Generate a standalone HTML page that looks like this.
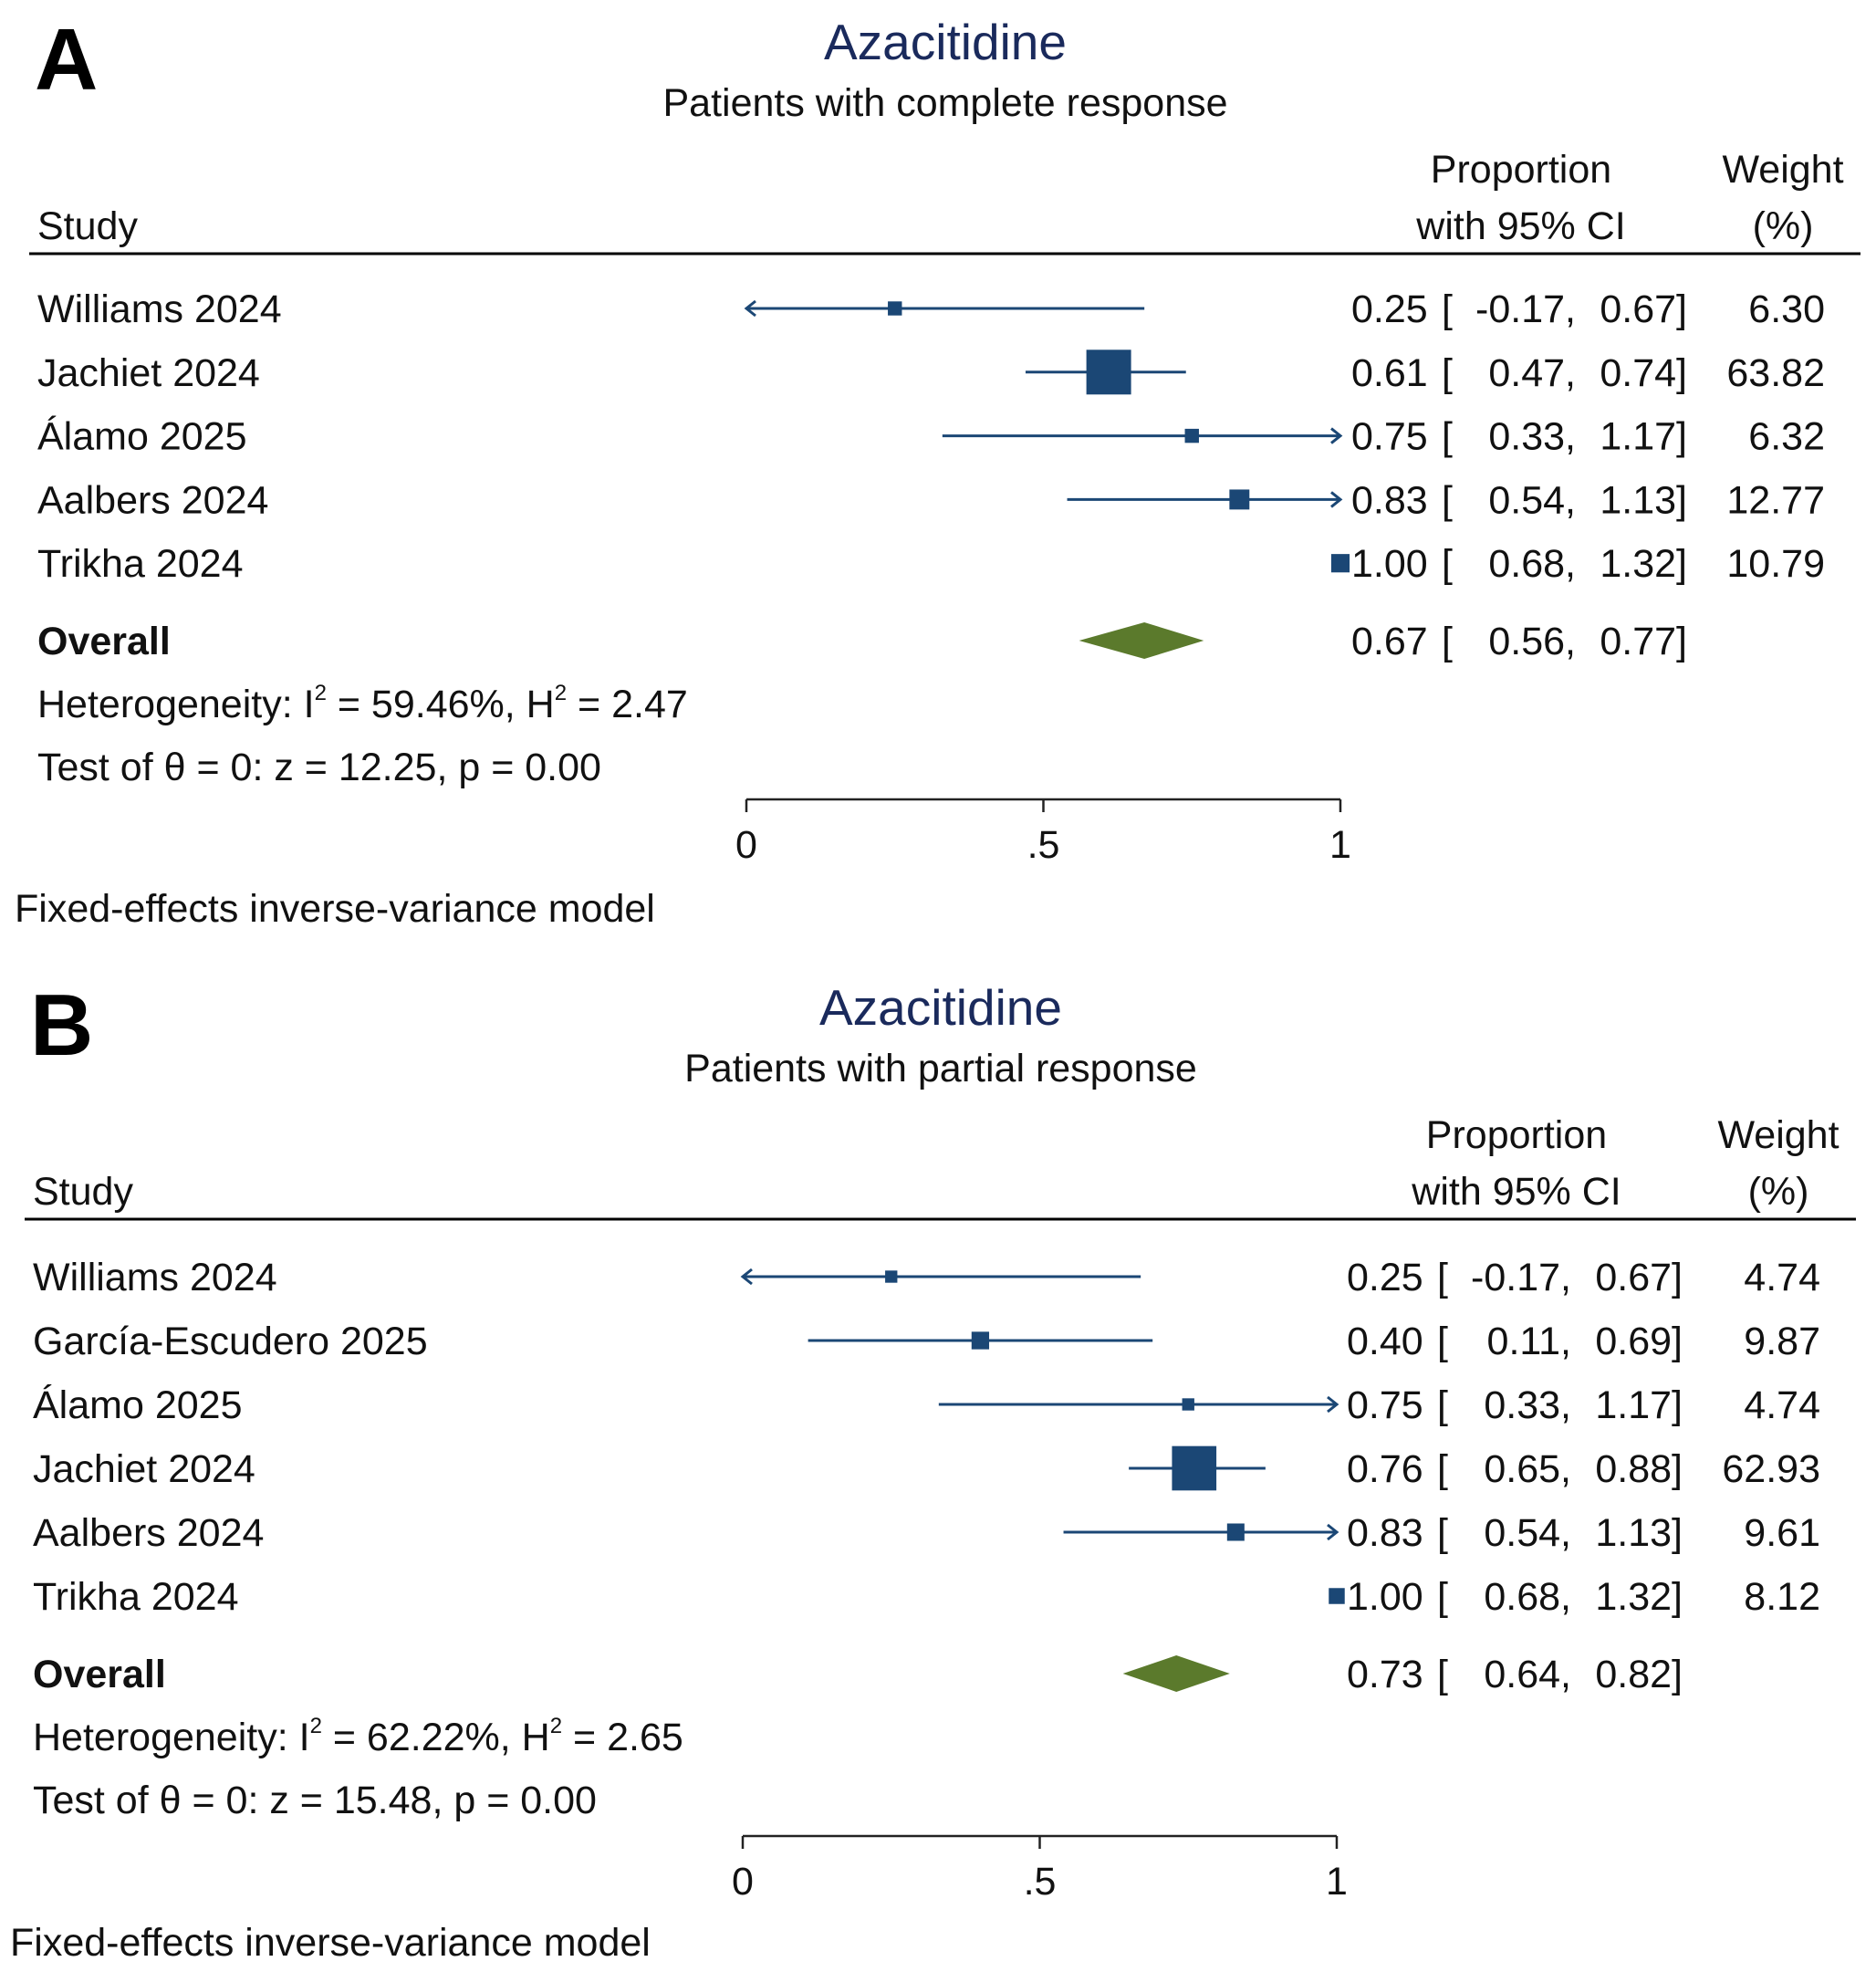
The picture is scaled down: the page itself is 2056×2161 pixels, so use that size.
<!DOCTYPE html>
<html><head><meta charset="utf-8"><style>
body{margin:0;background:#fff}
svg{display:block;font-family:"Liberation Sans",Arial,sans-serif}
</style></head><body>
<svg id="chart" width="2056" height="2161" viewBox="0 0 2056 2161" xmlns="http://www.w3.org/2000/svg"></svg>
<script>
// Panel A data
const studiesA = ["Williams 2024","Jachiet 2024","Álamo 2025","Aalbers 2024","Trikha 2024"];
const estA = [0.25,0.61,0.75,0.83,1.00];
const loA = [-0.17,0.47,0.33,0.54,0.68];
const hiA = [0.67,0.74,1.17,1.13,1.32];
const wA = [6.30,63.82,6.32,12.77,10.79];
const overallA = [0.67,0.56,0.77];
const statsA = ["59.46%","2.47","12.25","0.00"];
// Panel B data
const studiesB = ["Williams 2024","García-Escudero 2025","Álamo 2025","Jachiet 2024","Aalbers 2024","Trikha 2024"];
const estB = [0.25,0.40,0.75,0.76,0.83,1.00];
const loB = [-0.17,0.11,0.33,0.65,0.54,0.68];
const hiB = [0.67,0.69,1.17,0.88,1.13,1.32];
const wB = [4.74,9.87,4.74,62.93,9.61,8.12];
const overallB = [0.73,0.64,0.82];
const statsB = ["62.22%","2.65","15.48","0.00"];
const ticks = [0,0.5,1];
const tickLabels = ["0",".5","1"];

const NS="http://www.w3.org/2000/svg";
const svg=document.getElementById('chart');
const FS=43;
function el(tag,attrs,parent){const e=document.createElementNS(NS,tag);for(const k in attrs)e.setAttribute(k,attrs[k]);(parent||svg).appendChild(e);return e;}
function txt(s,x,y,attrs,parent){const t=el('text',Object.assign({x:x,y:y,'font-size':FS,fill:'#111'},attrs||{}),parent);t.textContent=s;return t;}
const NAVY="#1b4775", GREEN="#5b7a2c";

function panel(cfg){
  const g=el('g',{});
  
  
  const dx=cfg.dx, top=cfg.top;
  const X=v=>cfg.x0+(cfg.x1-cfg.x0)*v;
  const L=txt(cfg.letter,38+dx,top+48,{'font-size':96,'font-weight':'bold',fill:'#000'},g);
  
  const t=txt("Azacitidine",1036+dx,top+15,{'font-size':55,fill:'#1a2a5c','text-anchor':'middle'},g);
  
  const st=txt(cfg.subtitle,1036+dx,top+77,{'text-anchor':'middle'},g);
  
  const h1=txt("Proportion",1667+dx,top+150,{'text-anchor':'middle'},g);
  
  const h2=txt("with 95% CI",1667+dx,top+212,{'text-anchor':'middle'},g);
  
  const h3=txt("Weight",1954+dx,top+150,{'text-anchor':'middle'},g);
  
  const h4=txt("(%)",1954+dx,top+212,{'text-anchor':'middle'},g);
  
  const h5=txt("Study",41+dx,top+212,{},g);
  
  const hl=el('line',{x1:32+dx,x2:2039+dx,y1:top+228,y2:top+228,stroke:'#000','stroke-width':3},g);
  
  const rowY=i=>cfg.row0+i*cfg.rowH;
  cfg.studies.forEach((s,i)=>{
    const y=rowY(i), ty=y+15;
    const r=el('g',{},g);
    
    txt(s,41+dx,ty,{},r);
    const e=cfg.est[i],lo=cfg.lo[i],hi=cfg.hi[i];
    if(e<1){
      const a=X(Math.max(lo,0)),b=X(Math.min(hi,1));
      const ln=el('line',{x1:a,x2:b,y1:y,y2:y,stroke:NAVY,'stroke-width':3},r);
      
      if(lo<0){const p=el('polyline',{points:`${a+10},${y-8} ${a},${y} ${a+10},${y+8}`,fill:'none',stroke:NAVY,'stroke-width':3},r);
        }
      if(hi>1){const p=el('polyline',{points:`${b-10},${y-8} ${b},${y} ${b-10},${y+8}`,fill:'none',stroke:NAVY,'stroke-width':3},r);
        }
    }
    const sz=49*Math.sqrt(cfg.w[i]/63.82);
    const sq=el('rect',{x:X(e)-sz/2,y:y-sz/2,width:sz,height:sz,fill:NAVY},r);
    
    txt(e.toFixed(2),1481+dx,ty,{},r);
    txt("[",1580+dx,ty,{},r);
    txt(lo.toFixed(2)+",",1727+dx,ty,{'text-anchor':'end'},r);
    txt(hi.toFixed(2)+"]",1849+dx,ty,{'text-anchor':'end'},r);
    txt(cfg.w[i].toFixed(2),2000+dx,ty,{'text-anchor':'end'},r);
  });
  const oy=cfg.overallY;
  const o=cfg.overall;
  const og=el('g',{},g);
  
  txt("Overall",41+dx,oy+15,{'font-weight':'bold'},og);
  const dm=el('polygon',{points:`${X(o[1])},${oy} ${X(o[0])},${oy-20} ${X(o[2])},${oy} ${X(o[0])},${oy+20}`,fill:GREEN},og);
  
  txt(o[0].toFixed(2),1481+dx,oy+15,{},og);
  txt("[",1580+dx,oy+15,{},og);
  txt(o[1].toFixed(2)+",",1727+dx,oy+15,{'text-anchor':'end'},og);
  txt(o[2].toFixed(2)+"]",1849+dx,oy+15,{'text-anchor':'end'},og);
  const het=el('text',{x:41+dx,y:oy+84,'font-size':FS,fill:'#111'},g);
  
  het.innerHTML=`Heterogeneity: I<tspan font-size="24" dy="-19">2</tspan><tspan dy="19"> = ${cfg.stats[0]}, H</tspan><tspan font-size="24" dy="-19">2</tspan><tspan dy="19"> = ${cfg.stats[1]}</tspan>`;
  const tt=txt(`Test of θ = 0: z = ${cfg.stats[2]}, p = ${cfg.stats[3]}`,41+dx,oy+153,{},g);
  
  const ay=cfg.axisY;
  const ax=el('line',{x1:X(0),x2:X(1),y1:ay,y2:ay,stroke:'#222','stroke-width':2.5},g);
  
  ticks.forEach((v,i)=>{
    const tk=el('line',{x1:X(v),x2:X(v),y1:ay,y2:ay+14,stroke:'#222','stroke-width':2.5},g);
    
    const tl=txt(tickLabels[i],X(v),ay+64,{'text-anchor':'middle'},g);
    
  });
  const fn=txt("Fixed-effects inverse-variance model",16+dx,cfg.footY,{},g);
  
}
panel({name:'panel-a',letter:'A',subtitle:'Patients with complete response',dx:0,top:50,x0:818,x1:1469,
  studies:studiesA,est:estA,lo:loA,hi:hiA,w:wA,overall:overallA,stats:statsA,
  row0:338,rowH:69.8,overallY:702,axisY:876,footY:1010});
panel({name:'panel-b',letter:'B',subtitle:'Patients with partial response',dx:-5,top:1108,x0:814,x1:1465,
  studies:studiesB,est:estB,lo:loB,hi:hiB,w:wB,overall:overallB,stats:statsB,
  row0:1399,rowH:70,overallY:1834,axisY:2012,footY:2143});
</script>
</body></html>
